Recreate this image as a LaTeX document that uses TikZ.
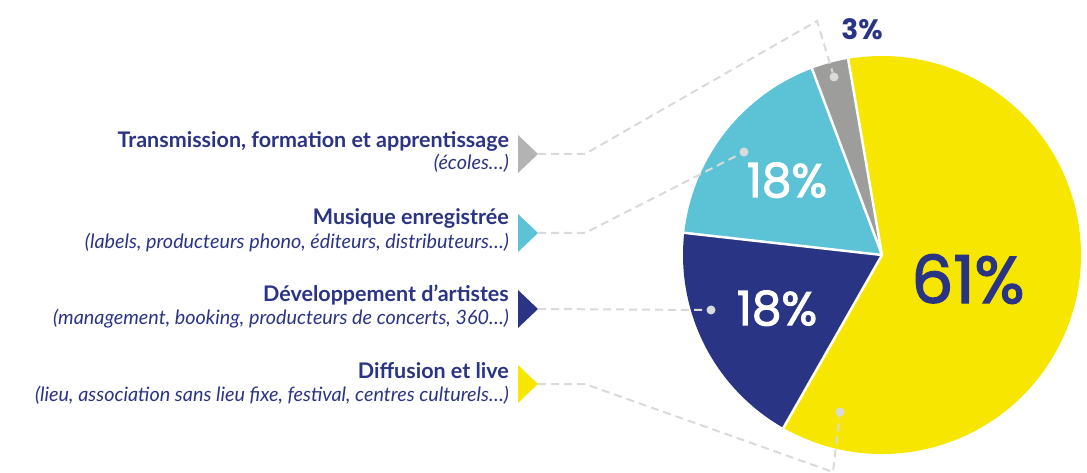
\documentclass[tikz,border=0pt]{standalone}
\usepackage{fontspec}
\setmainfont{Lato}
\newfontfamily\pctfont{Poppins}[FakeBold=2.2]
\newfontfamily\pctbold{Poppins}
\definecolor{navy}{HTML}{2A3484}
\definecolor{pyellow}{HTML}{F7E700}
\definecolor{pcyan}{HTML}{5CC2D6}
\definecolor{pgray}{HTML}{9D9D9C}
\definecolor{tgray}{HTML}{B3B3B3}
\definecolor{lgray}{HTML}{DADADA}
\begin{document}
\begin{tikzpicture}[x=1pt,y=1pt,
  title/.style={anchor=base east, text=navy, font=\fontsize{21.5}{24}\selectfont\bfseries, inner sep=0pt},
  sub/.style={anchor=base east, text=navy, font=\fontsize{19.8}{22}\selectfont\itshape, inner sep=0pt},
  pct/.style={anchor=base, inner sep=0pt},
  dotnode/.style={circle, fill=lgray, minimum size=9pt, inner sep=0pt},
  leader/.style={draw=lgray, line width=2pt, dash pattern=on 8pt off 5pt},
  sep/.style={draw=white, line width=2.5pt}]
\useasboundingbox (0,0) rectangle (1087,-473);
\coordinate (C) at (882,-255);
% pie slices
\fill[pyellow] (C) -- ++(-119.7:199) arc[start angle=-119.7, end angle=99.8, radius=199] -- cycle;
\fill[pgray] (C) -- ++(99.8:199) arc[start angle=99.8, end angle=110.6, radius=199] -- cycle;
\fill[pcyan] (C) -- ++(110.6:199) arc[start angle=110.6, end angle=173.6, radius=199] -- cycle;
\fill[navy] (C) -- ++(173.6:199) arc[start angle=173.6, end angle=240.3, radius=199] -- cycle;
\foreach \a in {99.8,110.6,173.6,240.3} \draw[sep] (C) -- ++(\a:201);
% triangles
\fill[tgray] (518,-135) -- (538,-154) -- (518,-173) -- cycle;
\fill[pcyan] (518,-214) -- (538,-233) -- (518,-252) -- cycle;
\fill[navy] (518,-290) -- (538,-309) -- (518,-328) -- cycle;
\fill[pyellow] (518,-365) -- (538,-384) -- (518,-403) -- cycle;
\coordinate (t1) at (538,-154);
\coordinate (t2) at (538,-233);
\coordinate (t3) at (538,-309);
\coordinate (t4) at (538,-384);
\coordinate (b1) at (585,-154);
\coordinate (b2) at (585,-233);
\coordinate (b4) at (585,-384);
\coordinate (k1) at (817,-21);
\coordinate (k4) at (833,-472);
% dots
\node[dotnode] (d1) at (834,-77) {};
\node[dotnode] (d2) at (744,-152) {};
\node[dotnode] (d3) at (711,-310) {};
\node[dotnode] (d4) at (840,-412) {};
% leaders
\draw[leader] (t1) -- (b1) -- (k1) -- (d1);
\draw[leader] (t2) -- (b2) -- (d2);
\draw[leader] (t3) -- (d3);
\draw[leader] (t4) -- (b4) -- (k4) -- (d4);
% labels
\node[title] (l1) at (509,-148) {Transmission, formation et apprentissage};
\node[sub] (s1) at (509,-170) {(écoles…)};
\node[title] (l2) at (509,-225) {Musique enregistrée};
\node[sub] (s2) at (509,-248) {(labels, producteurs phono, éditeurs, distributeurs…)};
\node[title] (l3) at (509,-301) {Développement d’artistes};
\node[sub] (s3) at (509,-324) {(management, booking, producteurs de concerts, 360…)};
\node[title] (l4) at (509,-378) {Diffusion et live};
\node[sub] (s4) at (509,-401) {(lieu, association sans lieu fixe, festival, centres culturels…)};
% percentages
\node[pct, text=navy, font=\pctfont\fontsize{66}{70}\selectfont] (p61) at (968,-303) {61\%};
\node[pct, text=white, font=\pctfont\fontsize{47}{50}\selectfont] (p18a) at (787,-197) {18\%};
\node[pct, text=white, font=\pctfont\fontsize{47}{50}\selectfont] (p18b) at (777,-325) {18\%};
\node[pct, text=navy, font=\pctbold\bfseries\fontsize{28}{30}\selectfont] (p3) at (862,-40) {3\%};
\end{tikzpicture}
\end{document}
